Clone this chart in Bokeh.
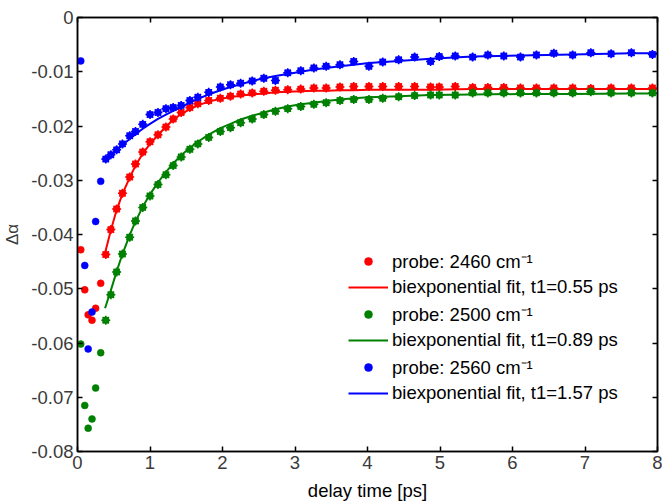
from bokeh.plotting import figure
from bokeh.models import (Range1d, LinearAxis, FixedTicker, Legend, LegendItem,
                          ColumnDataSource, CustomJSTickFormatter)
from bokeh.embed import file_html
from bokeh.resources import INLINE

# ---------------- data ----------------
t = [0.045, 0.10, 0.147, 0.20, 0.25, 0.32, 0.39, 0.46, 0.54, 0.62, 0.72, 0.80, 0.90, 1.00,
     1.11, 1.22, 1.32, 1.43, 1.55, 1.66, 1.81, 1.97, 2.11, 2.25, 2.41, 2.57, 2.73, 2.90,
     3.08, 3.26, 3.43, 3.62, 3.81, 4.02, 4.21, 4.43, 4.65, 4.87, 4.99, 5.21, 5.45, 5.66,
     5.88, 6.11, 6.33, 6.57, 6.83, 7.08, 7.36, 7.64, 7.93]

probe_2460 = [-0.0428, -0.0502, -0.0548, -0.0558, -0.0536, -0.0490, -0.0437, -0.0391, -0.0353,
              -0.0324, -0.0294, -0.0270, -0.0248, -0.0229, -0.0216, -0.0202, -0.0187, -0.0175,
              -0.0166, -0.0159, -0.0153, -0.0149, -0.0145, -0.0141, -0.0139, -0.0136, -0.0134,
              -0.0133, -0.0132, -0.0130, -0.0130, -0.0128, -0.0127, -0.0127, -0.0127, -0.0127,
              -0.0127, -0.0128, -0.0128, -0.0127, -0.0129, -0.0129, -0.0129, -0.0130, -0.0130,
              -0.0130, -0.0130, -0.0131, -0.0130, -0.0130, -0.0130]

probe_2500 = [-0.0602, -0.0715, -0.0757, -0.0740, -0.0683, -0.0618, -0.0558, -0.0511, -0.0469,
              -0.0436, -0.0405, -0.0375, -0.0350, -0.0329, -0.0308, -0.0290, -0.0273, -0.0257,
              -0.0243, -0.0233, -0.0221, -0.0210, -0.0203, -0.0194, -0.0187, -0.0179, -0.0173,
              -0.0168, -0.0164, -0.0160, -0.0157, -0.0153, -0.0151, -0.0151, -0.0149, -0.0146,
              -0.0144, -0.0143, -0.0143, -0.0143, -0.0139, -0.0139, -0.0139, -0.0139, -0.0139,
              -0.0139, -0.0139, -0.0137, -0.0139, -0.0139, -0.0139]

probe_2560 = [-0.0080, -0.0457, -0.0611, -0.0543, -0.0376, -0.0302, -0.0261, -0.0253, -0.0244,
              -0.0233, -0.0218, -0.0210, -0.0197, -0.0179, -0.0175, -0.0168, -0.0166, -0.0162,
              -0.0153, -0.0147, -0.0138, -0.0128, -0.0124, -0.0121, -0.0117, -0.0112, -0.0116,
              -0.0102, -0.0098, -0.0093, -0.0090, -0.0087, -0.0081, -0.0090, -0.0082, -0.0078,
              -0.0073, -0.0081, -0.0072, -0.0071, -0.0073, -0.0069, -0.0071, -0.0073, -0.0069,
              -0.0066, -0.0069, -0.0065, -0.0067, -0.0065, -0.0068]

fit_start = 6  # first point used in the fits (t = 0.39 ps)

fit_t = [0.38, 0.46, 0.54, 0.62, 0.72, 0.80, 0.90, 1.00, 1.11, 1.22, 1.32, 1.43, 1.55, 1.66,
         1.81, 1.97, 2.11, 2.25, 2.41, 2.57, 2.73, 2.90, 3.08, 3.26, 3.43, 3.62, 3.81, 4.02,
         4.43, 4.87, 5.45, 6.11, 6.83, 7.64, 8.00]

fit_2460 = [-0.0434, -0.0392, -0.0355, -0.0325, -0.0295, -0.0273, -0.0251, -0.0233, -0.0217,
            -0.0201, -0.0189, -0.0178, -0.0169, -0.0162, -0.0155, -0.0150, -0.0147, -0.0144,
            -0.0142, -0.0140, -0.0138, -0.0137, -0.0136, -0.0135, -0.0135, -0.0134, -0.0134,
            -0.0133, -0.0133, -0.0133, -0.0132, -0.0132, -0.0132, -0.0132, -0.0132]

fit_2500 = [-0.0536, -0.0503, -0.0468, -0.0436, -0.0401, -0.0376, -0.0349, -0.0326, -0.0304,
            -0.0285, -0.0269, -0.0254, -0.0240, -0.0229, -0.0216, -0.0204, -0.0196, -0.0188,
            -0.0181, -0.0175, -0.0169, -0.0164, -0.0160, -0.0157, -0.0154, -0.0151, -0.0149,
            -0.0147, -0.0145, -0.0143, -0.0142, -0.0141, -0.0141, -0.0140, -0.0140]

fit_2560 = [-0.0265, -0.0255, -0.0245, -0.0235, -0.0224, -0.0215, -0.0205, -0.0196, -0.0187,
            -0.0179, -0.0172, -0.0165, -0.0157, -0.0150, -0.0142, -0.0134, -0.0128, -0.0123,
            -0.0117, -0.0112, -0.0108, -0.0104, -0.0100, -0.0096, -0.0093, -0.0090, -0.0087,
            -0.0084, -0.0080, -0.0076, -0.0072, -0.0070, -0.0068, -0.0066, -0.0066]

series_names = ["probe: 2460 cm\u207b\u00b9", "probe: 2500 cm\u207b\u00b9", "probe: 2560 cm\u207b\u00b9"]
fit_names = ["biexponential fit, t1=0.55 ps", "biexponential fit, t1=0.89 ps",
             "biexponential fit, t1=1.57 ps"]
colors = ["#ff0000", "#008000", "#0000ff"]

x_ticks = [0, 1, 2, 3, 4, 5, 6, 7, 8]
y_ticks = [0, -0.01, -0.02, -0.03, -0.04, -0.05, -0.06, -0.07, -0.08]
y_tick_labels = ["0", "-0.01", "-0.02", "-0.03", "-0.04", "-0.05", "-0.06", "-0.07", "-0.08"]
x_label = "delay time [ps]"
y_label = "\u0394\u03b1"

# ---------------- figure ----------------
FONT = "Liberation Sans"
p = figure(width=662, height=504, output_backend="svg", toolbar_location=None,
           x_range=Range1d(0, 8), y_range=Range1d(-0.08, 0),
           min_border_left=76, min_border_right=5, min_border_top=17, min_border_bottom=53,
           x_axis_label=x_label, y_axis_label=y_label)
p.grid.visible = False
p.outline_line_color = "black"
p.outline_line_width = 1.5
p.background_fill_color = "white"
p.border_fill_color = "white"

def style_axis(ax, ticks, show_labels=True):
    ax.ticker = FixedTicker(ticks=ticks)
    ax.axis_line_color = "black"
    ax.axis_line_width = 1.5
    ax.major_tick_line_color = "black"
    ax.major_tick_line_width = 1.5
    ax.major_tick_in = 5
    ax.major_tick_out = 0
    ax.minor_tick_line_color = None
    ax.major_label_text_font = FONT
    ax.major_label_text_color = "#3a3a3a"
    ax.major_label_text_font_size = "18.5px"
    if show_labels:
        ax.major_label_standoff = 4
    else:
        ax.major_label_standoff = 0
        ax.formatter = CustomJSTickFormatter(code="return ''")

style_axis(p.xaxis[0], x_ticks)
style_axis(p.yaxis[0], y_ticks)
p.yaxis[0].major_label_overrides = {v: s for v, s in zip(y_ticks, y_tick_labels)}
p.xaxis[0].major_label_text_line_height = 1.0
p.xaxis[0].axis_label_text_font = FONT
p.xaxis[0].axis_label_text_font_style = "normal"
p.xaxis[0].axis_label_text_font_size = "18.5px"
p.xaxis[0].axis_label_text_color = "black"
p.xaxis[0].axis_label_standoff = 8
p.yaxis[0].axis_label_text_font = FONT
p.yaxis[0].axis_label_text_font_style = "normal"
p.yaxis[0].axis_label_text_font_size = "17px"
p.yaxis[0].axis_label_text_color = "#3a3a3a"
p.yaxis[0].axis_label_standoff = 6

top_ax = LinearAxis()
style_axis(top_ax, x_ticks, show_labels=False)
p.add_layout(top_ax, "above")
right_ax = LinearAxis()
style_axis(right_ax, y_ticks, show_labels=False)
p.add_layout(right_ax, "right")

items = []
probes = [probe_2460, probe_2500, probe_2560]
fits = [fit_2460, fit_2500, fit_2560]
for name, fname, col, ys, fy in zip(series_names, fit_names, colors, probes, fits):
    src = ColumnDataSource(dict(x=t, y=ys))
    dots = p.scatter("x", "y", source=src, marker="circle", size=7,
                     fill_color=col, line_color=col, line_width=0.5)
    fsrc = ColumnDataSource(dict(x=t[fit_start:], y=ys[fit_start:]))
    p.scatter("x", "y", source=fsrc, marker="asterisk", size=9,
              line_color=col, line_width=1.5)
    line = p.line(fit_t, fy, line_color=col, line_width=2)
    items.append(LegendItem(label=name, renderers=[dots]))
    items.append(LegendItem(label=fname, renderers=[line]))

legend = Legend(items=items, location=(271, 47), border_line_alpha=0,
                background_fill_alpha=0, padding=0, margin=0, glyph_width=40,
                glyph_height=20, label_height=20, label_standoff=4, spacing=3,
                label_text_font=FONT, label_text_font_size="18.5px",
                label_text_color="black")
p.add_layout(legend, "center")

open("out.html", "w").write(file_html(p, INLINE))
